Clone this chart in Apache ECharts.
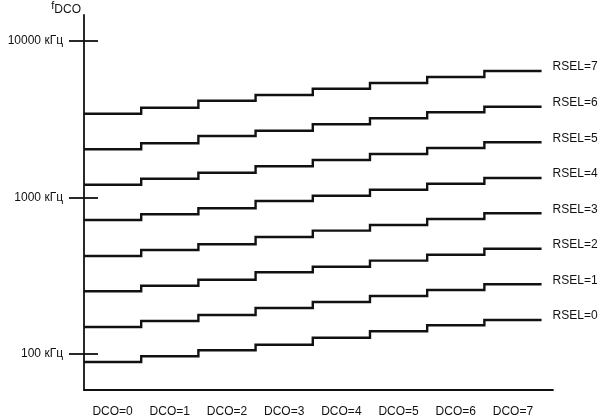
<!DOCTYPE html>
<html>
<head>
<meta charset="utf-8">
<style>
  html, body { margin: 0; padding: 0; background: #fff; }
  #chart { width: 600px; height: 419px; }
</style>
<script src="https://cdn.jsdelivr.net/npm/echarts@6/dist/echarts.min.js"></script>
</head>
<body>
<div id="chart"></div>
<script>
// Categories (DCO steps) and series names
const dcoLabels = ['DCO=0', 'DCO=1', 'DCO=2', 'DCO=3', 'DCO=4', 'DCO=5', 'DCO=6', 'DCO=7'];
const rselNames = ['RSEL=0', 'RSEL=1', 'RSEL=2', 'RSEL=3', 'RSEL=4', 'RSEL=5', 'RSEL=6', 'RSEL=7'];

const rsel0 = [88.9, 96.7, 105.6, 114.7, 127.1, 139.6, 152.6, 165.0];
const rsel1 = [148.8, 162.5, 177.5, 196.7, 214.9, 234.8, 256.4, 278.9];
const rsel2 = [251.6, 273.2, 298.4, 332.7, 361.3, 394.8, 431.1, 470.8];
const rsel3 = [422.9, 461.8, 502.3, 559.5, 613.8, 667.3, 728.8, 792.5];
const rsel4 = [718.1, 781.1, 853.1, 949.8, 1026.8, 1121.6, 1225.4, 1332.5];
const rsel5 = [1207.5, 1318.8, 1440.6, 1582.5, 1735.8, 1896.8, 2072.3, 2253.0];
const rsel6 = [2032, 2220, 2472, 2672, 2936, 3207, 3503, 3804];
const rsel7 = [3432, 3748, 4154, 4519, 4957, 5390, 5888, 6433];

// Y tick labels
const yTickValues = [100, 1000, 10000];
const yTickUnit = ' кГц';

const allSeries = [rsel0, rsel1, rsel2, rsel3, rsel4, rsel5, rsel6, rsel7];

const FONT = "'Liberation Sans', Arial, Helvetica, sans-serif";
const INK = '#111';

const yMin = 58.88, yMax = 14659;

function stepData(vals) {
  // each DCO value spans [i, i+1]
  const d = vals.map((v, i) => [i, v]);
  d.push([vals.length, vals[vals.length - 1]]);
  return d;
}

const series = allSeries.map((vals, r) => ({
  type: 'line',
  name: rselNames[r],
  data: stepData(vals),
  step: 'end',
  showSymbol: false,
  symbol: 'none',
  lineStyle: { color: INK, width: 2.4, cap: 'butt', join: 'miter' },
  itemStyle: { color: INK },
  endLabel: {
    show: true,
    formatter: rselNames[r],
    distance: 11,
    offset: [0, -4],
    color: INK,
    fontFamily: FONT,
    fontSize: 12
  },
  silent: true,
  emphasis: { disabled: true }
}));

const chart = echarts.init(document.getElementById('chart'), null, { renderer: 'canvas' });

function isDecade(v) {
  return yTickValues.some(t => Math.abs(v - t) / t < 1e-6);
}

chart.setOption({
  animation: false,
  backgroundColor: '#fff',
  grid: { left: 84, right: 47, top: 15, bottom: 29, containLabel: false },
  xAxis: {
    type: 'value',
    min: 0,
    max: 8.2,
    interval: 0.5,
    axisLine: { show: true, lineStyle: { color: INK, width: 1.8 } },
    axisTick: { show: false },
    splitLine: { show: false },
    axisLabel: {
      margin: 16,
      color: INK,
      fontFamily: FONT,
      fontSize: 12,
      showMinLabel: true,
      showMaxLabel: true,
      formatter: function (v) {
        const k = Math.floor(v + 1e-9);
        if (Math.abs(v - k - 0.5) < 1e-6 && k < dcoLabels.length) return dcoLabels[k];
        return '';
      }
    }
  },
  yAxis: [
    {
      type: 'log',
      logBase: 10,
      min: yMin,
      max: yMax,
      position: 'left',
      offset: 0,
      name: '{f|f}{s|DCO}',
      nameLocation: 'end',
      nameGap: -1,
      nameTextStyle: {
        align: 'right',
        verticalAlign: 'bottom',
        padding: [0, 3, 0, 0],
        rich: {
          f: { fontSize: 11, fontFamily: FONT, color: INK, lineHeight: 16, verticalAlign: 'top' },
          s: { fontSize: 12, fontFamily: FONT, color: INK, lineHeight: 16, verticalAlign: 'bottom' }
        }
      },
      axisLine: { show: true, lineStyle: { color: INK, width: 1.8 } },
      axisTick: { show: true, inside: false, length: 15, customValues: yTickValues, lineStyle: { color: INK, width: 1.8 } },
      splitLine: { show: false },
      axisLabel: {
        margin: 21,
        color: INK,
        fontFamily: FONT,
        fontSize: 12,
        customValues: yTickValues,
        formatter: function (v) { return isDecade(v) ? Math.round(v) + yTickUnit : ''; }
      }
    },
    {
      type: 'log',
      logBase: 10,
      min: yMin,
      max: yMax,
      position: 'left',
      offset: 0,
      axisLine: { show: false },
      axisTick: { show: true, inside: true, length: 14, customValues: yTickValues, lineStyle: { color: INK, width: 1.8 } },
      axisLabel: { show: false },
      splitLine: { show: false }
    }
  ],
  series: series
});
</script>
</body>
</html>
